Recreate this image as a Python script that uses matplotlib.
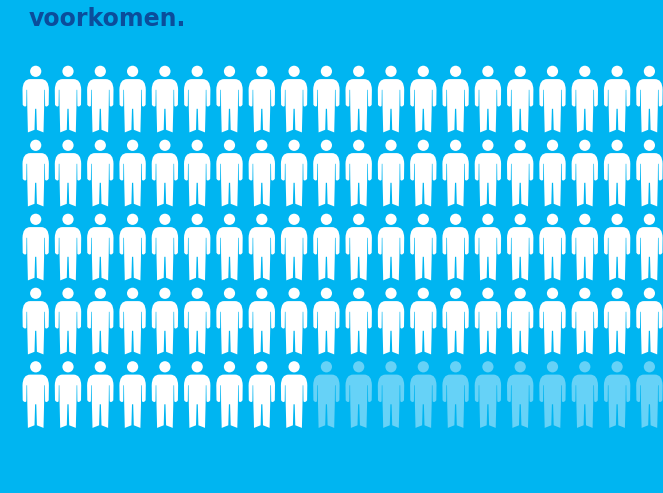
import numpy as np
import matplotlib
matplotlib.use("Agg")
import matplotlib.pyplot as plt

from matplotlib.path       import Path
from matplotlib.patches    import PathPatch
from matplotlib.transforms import Affine2D

title_text = "voorkomen."
n_rows     = 5
n_cols     = 20
row_filled = [20, 20, 20, 20, 9]     # white people per row, the rest is faded

bg_color    = "#00b5f1"
title_color = "#0b4d9b"
full_color  = "#ffffff"
faded_color = "#66d2f7"

col_x = 35.7 + 32.3 * np.arange(n_cols)
row_y = [65.8, 139.8, 213.8, 287.8, 361.3]


def person():
    # one icon in pixels: x from the centre line, y down from top of the head
    M, L, Q, Z = Path.MOVETO, Path.LINETO, Path.CURVE3, Path.CLOSEPOLY

    # right half of the body, from the collar to the crotch
    half = [(M,  0.0, 13.3),
            (L,  5.5, 13.3),
            (Q, 13.0, 13.3), (Q, 13.2, 24.0),
            (L, 13.0, 39.0),
            (Q, 11.0, 42.0), (Q,  9.4, 40.0),
            (L,  9.2, 24.0),
            (L,  8.6, 24.0),
            (L,  8.4, 42.0),
            (L,  7.8, 66.6),
            (L,  1.2, 64.0),
            (L,  0.6, 43.0),
            (L,  0.0, 43.0)]
    verts = [(x, y) for _, x, y in half]
    codes = [c for c, _, _ in half]

    # and back up the left half
    n = len(half) - 1
    for i in range(n - 1, -1, -1):
        verts.append((-half[i][1], half[i][2]))
        codes.append(half[i + 1][0])
    verts.append((0, 13.3))
    codes.append(Z)

    body = Path(verts, codes)
    head = Path.circle((0, 5.5), 5.6)
    return Path.make_compound_path(body, head)


fig = plt.figure(figsize=(6.63, 4.93), dpi=100, facecolor=bg_color)
ax  = fig.add_axes([0, 0, 1, 1])
ax.set_xlim(0, 663)
ax.set_ylim(493, 0)
ax.axis("off")

icon = person()
for i_r in range(n_rows):
    for i_c in range(n_cols):
        color = full_color if i_c < row_filled[i_r] else faded_color
        shape = icon.transformed(Affine2D().translate(col_x[i_c], row_y[i_r]))
        ax.add_patch(PathPatch(shape, facecolor=color, edgecolor="none"))

ax.text(29, 26, title_text, color=title_color, fontsize=17, fontweight="bold",
        family="DejaVu Sans", ha="left", va="baseline")

fig.savefig("out.png", dpi=100, facecolor=bg_color)
